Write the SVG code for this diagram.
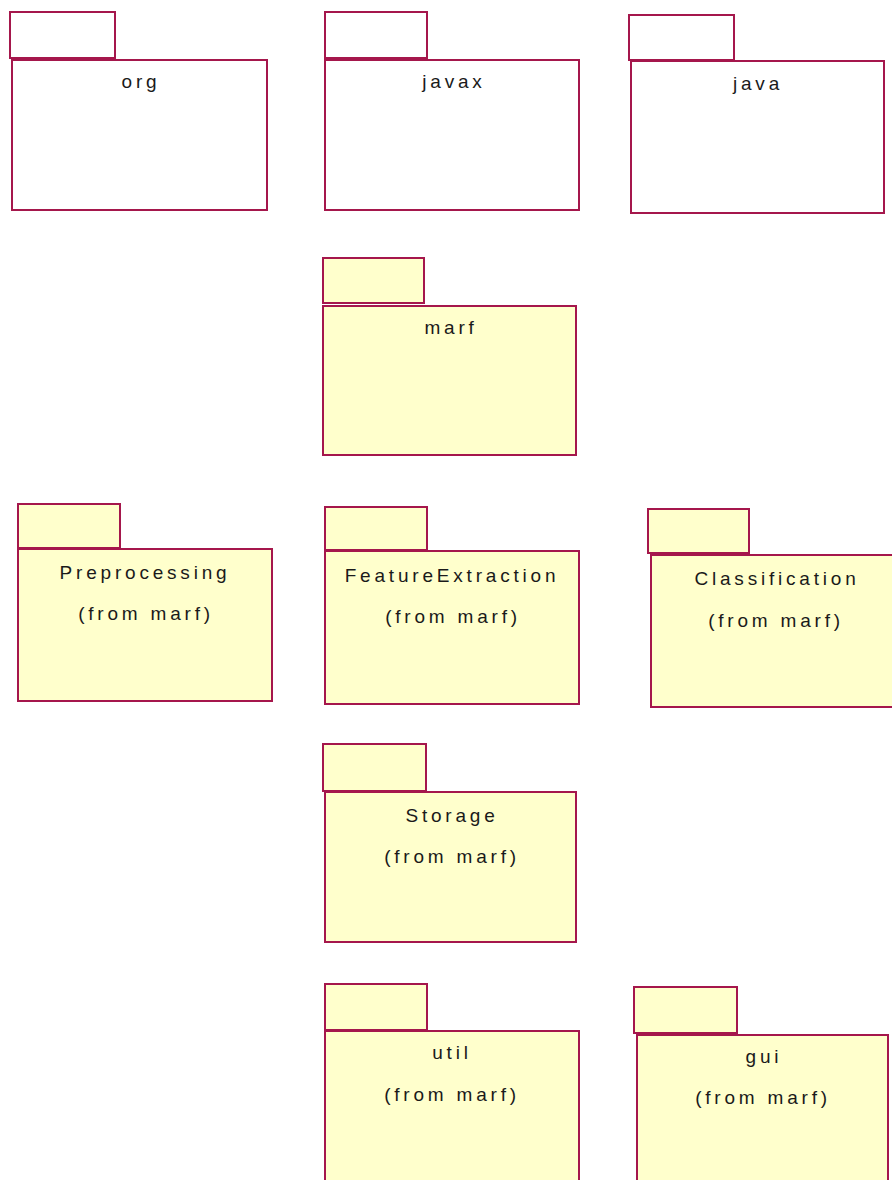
<svg xmlns="http://www.w3.org/2000/svg" width="892" height="1180" viewBox="0 0 892 1180">
  <style>
    .pkg rect { stroke: #a5174c; stroke-width: 2; }
    .ext rect { fill: #ffffff; }
    .own rect { fill: #ffffcc; }
    text { font-family: "Liberation Sans", Arial, sans-serif; font-size: 19px; letter-spacing: 3.8px; fill: #1a1a1a; text-anchor: middle; }
  </style>
  <rect x="0" y="0" width="892" height="1180" fill="#ffffff"/>

  <!-- external packages -->
  <g id="org" class="pkg ext">
    <rect x="10" y="12" width="105" height="46"/>
    <rect x="12" y="60" width="255" height="150"/>
    <text x="141" y="88">org</text>
  </g>
  <g id="javax" class="pkg ext">
    <rect x="325" y="12" width="102" height="46"/>
    <rect x="325" y="60" width="254" height="150"/>
    <text x="454" y="88">javax</text>
  </g>
  <g id="java" class="pkg ext">
    <rect x="629" y="15" width="105" height="45"/>
    <rect x="631" y="61" width="253" height="152"/>
    <text x="758" y="90">java</text>
  </g>

  <!-- marf and its subpackages -->
  <g id="marf" class="pkg own">
    <rect x="323" y="258" width="101" height="45"/>
    <rect x="323" y="306" width="253" height="149"/>
    <text x="451" y="334">marf</text>
  </g>
  <g id="Preprocessing" class="pkg own">
    <rect x="18" y="504" width="102" height="44"/>
    <rect x="18" y="549" width="254" height="152"/>
    <text x="145" y="579">Preprocessing</text>
    <text x="146" y="620">(from marf)</text>
  </g>
  <g id="FeatureExtraction" class="pkg own">
    <rect x="325" y="507" width="102" height="43"/>
    <rect x="325" y="551" width="254" height="153"/>
    <text x="452" y="582">FeatureExtraction</text>
    <text x="453" y="623">(from marf)</text>
  </g>
  <g id="Classification" class="pkg own">
    <rect x="648" y="509" width="101" height="44"/>
    <rect x="651" y="555" width="260" height="152"/>
    <text x="777" y="585">Classification</text>
    <text x="776" y="627">(from marf)</text>
  </g>
  <g id="Storage" class="pkg own">
    <rect x="323" y="744" width="103" height="47"/>
    <rect x="325" y="792" width="251" height="150"/>
    <text x="452" y="822">Storage</text>
    <text x="452" y="863">(from marf)</text>
  </g>
  <g id="util" class="pkg own">
    <rect x="325" y="984" width="102" height="46"/>
    <rect x="325" y="1031" width="254" height="160"/>
    <text x="452" y="1059">util</text>
    <text x="452" y="1101">(from marf)</text>
  </g>
  <g id="gui" class="pkg own">
    <rect x="634" y="987" width="103" height="46"/>
    <rect x="637" y="1035" width="251" height="156"/>
    <text x="764" y="1063">gui</text>
    <text x="763" y="1104">(from marf)</text>
  </g>

  <!-- no dependency connectors are drawn in this view -->
  <g id="connectors"/>
</svg>
